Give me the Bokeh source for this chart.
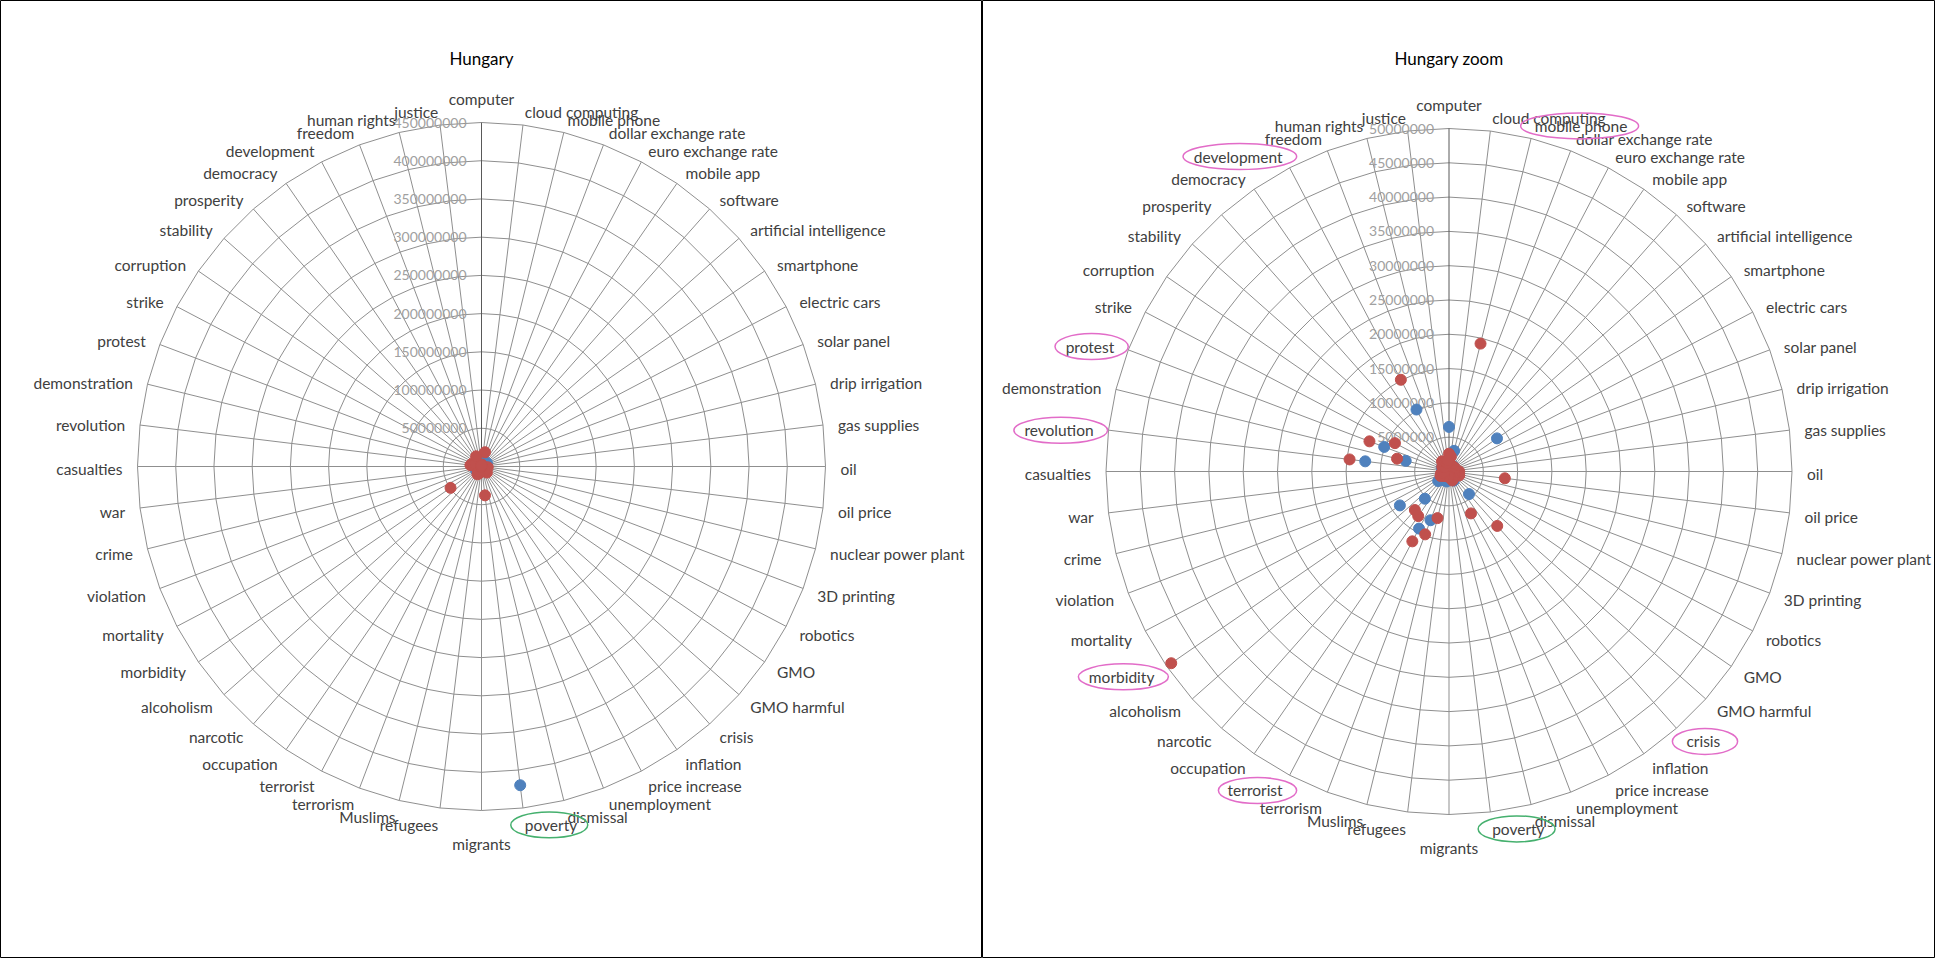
import math
from bokeh.plotting import figure
from bokeh.layouts import row
from bokeh.models import Range1d
from bokeh.core.properties import value
from bokeh.embed import file_html
from bokeh.resources import INLINE

# ---------------- data (values in millions) ----------------
categories = [
    "computer", "cloud computing", "mobile phone", "dollar exchange rate", "euro exchange rate",
    "mobile app", "software", "artificial intelligence", "smartphone", "electric cars",
    "solar panel", "drip irrigation", "gas supplies", "oil", "oil price",
    "nuclear power plant", "3D printing", "robotics", "GMO", "GMO harmful",
    "crisis", "inflation", "price increase", "unemployment", "dismissal",
    "poverty", "migrants", "refugees", "Muslims", "terrorism",
    "terrorist", "occupation", "narcotic", "alcoholism", "morbidity",
    "mortality", "violation", "crime", "war", "casualties",
    "revolution", "demonstration", "protest", "strike", "corruption",
    "stability", "prosperity", "democracy", "development", "freedom",
    "human rights", "justice",
]
blue_values = [
    6.5, 1.0, 3.1, 0.5, 0.6,
    0.4, 1.0, 0.5, 8.5, 0.4,
    0.5, 0.2, 0.6, 1.2, 0.8,
    0.7, 0.5, 0.4, 0.3, 0.2,
    4.4, 0.8, 1.5, 1.2, 0.9,
    420.0, 0.8, 1.0, 1.5, 7.6,
    9.4, 1.5, 5.3, 2.1, 8.7,
    1.0, 0.6, 1.0, 0.8, 0.5,
    12.3, 6.5, 10.1, 1.2, 0.9,
    0.7, 0.6, 1.2, 10.2, 0.8,
    0.6, 0.9,
]
red_values = [
    2.6, 2.2, 19.2, 1.0, 0.9,
    0.8, 0.7, 0.6, 1.0, 0.5,
    0.6, 0.3, 0.8, 1.5, 8.2,
    1.4, 1.6, 1.0, 0.9, 0.5,
    10.6, 1.2, 6.9, 1.4, 0.8,
    38.0, 0.6, 0.8, 7.0, 9.8,
    11.5, 7.9, 7.5, 1.0, 49.2,
    1.4, 0.8, 1.2, 1.0, 0.7,
    14.6, 7.8, 12.4, 8.9, 1.2,
    1.0, 0.9, 1.8, 15.1, 1.5,
    1.3, 1.6,
]
left_ticks = [50, 100, 150, 200, 250, 300, 350, 400, 450]
right_ticks = [5, 10, 15, 20, 25, 30, 35, 40, 45, 50]
zoom_excluded = ["poverty"]
pink_marked = ["mobile phone", "development", "protest", "revolution", "morbidity", "terrorist", "crisis"]
green_marked = ["poverty"]

BLUE = "#4F81BD"
RED = "#C0504D"
GRID = "#8f8f8f"
LABEL = "#404040"
TICK = "#a0a0a0"
FONT = "Lato"
FS = 15.5
H = 958
N = len(categories)


def text_width(s, size):
    narrow = set("iljtfr .")
    wide = set("mwMW")
    w = 0.0
    for ch in s:
        if ch in narrow:
            w += 0.28
        elif ch in wide:
            w += 0.8
        elif ch.isupper() or ch.isdigit():
            w += 0.6
        else:
            w += 0.52
    return w * size


def panel(title, width, cx, cy, R, vmax, ticks, excluded, pink, green):
    k = R / vmax
    p = figure(width=width, height=H, output_backend="svg", toolbar_location=None,
               x_range=Range1d(-cx / k, (width - cx) / k),
               y_range=Range1d(-(H - cy) / k, cy / k),
               min_border=0, min_border_left=0, min_border_right=0,
               min_border_top=0, min_border_bottom=0)
    p.axis.visible = False
    p.grid.visible = False
    p.outline_line_color = "black"
    p.outline_line_width = 1
    p.background_fill_color = "white"
    p.border_fill_color = "white"

    angles = [2 * math.pi * i / N for i in range(N)]
    # rings
    xs, ys = [], []
    for t in ticks:
        xs.append([t * math.sin(a) for a in angles] + [0.0])
        ys.append([t * math.cos(a) for a in angles] + [t])
    p.multi_line(xs, ys, line_color=GRID, line_width=1)
    # spokes
    sx = [[0, vmax * math.sin(a)] for a in angles[1:]]
    sy = [[0, vmax * math.cos(a)] for a in angles[1:]]
    p.multi_line(sx, sy, line_color=GRID, line_width=1)
    p.line([0, 0], [0, vmax], line_color="#595959", line_width=1)

    # value labels
    gap = 15 / k
    p.text(x=[-gap] * len(ticks), y=ticks, text=[str(int(t * 1_000_000)) for t in ticks],
           text_align="right", text_baseline="middle", text_color=TICK,
           text_font=value(FONT), text_font_size="14px")

    # category labels
    rl = R + 15
    groups = {}
    marks = []
    for i, name in enumerate(categories):
        a = angles[i]
        s, c = math.sin(a), math.cos(a)
        px, py = rl * s, rl * c  # pixels relative to centre (y up)
        if abs(s) < 0.02:
            align = "center"
        elif s > 0:
            align = "left"
        else:
            align = "right"
        if c > 0.999:
            base = "bottom"
            tcy = py + 9
        elif c < -0.999:
            base = "top"
            py -= 9
            tcy = py - 10
        else:
            base = "middle"
            py -= 2
            tcy = py
        groups.setdefault((align, base), []).append((px / k, py / k, name))
        w = text_width(name, FS)
        tcx = px + (w / 2 if align == "left" else (-w / 2 if align == "right" else 0))
        if name in pink:
            marks.append((tcx / k, tcy / k, w + 28, "#e26cc8"))
        if name in green:
            marks.append((tcx / k, tcy / k, w + 28, "#45b06e"))
    for (align, base), items in groups.items():
        p.text(x=[it[0] for it in items], y=[it[1] for it in items], text=[it[2] for it in items],
               text_align=align, text_baseline=base, text_color=LABEL,
               text_font=value(FONT), text_font_size=f"{FS}px")
    for (mx, my, mw, col) in marks:
        p.ellipse(x=[mx], y=[my], width=[mw], height=[26], width_units="screen",
                  height_units="screen", fill_color=None, line_color=col, line_width=1.5)

    # data points
    for vals, col in ((blue_values, BLUE), (red_values, RED)):
        px_, py_ = [], []
        for i, v in enumerate(vals):
            if categories[i] in excluded or v > vmax:
                continue
            px_.append(v * math.sin(angles[i]))
            py_.append(v * math.cos(angles[i]))
        p.scatter(px_, py_, marker="circle", size=11, fill_color=col, line_color=col)

    # title
    p.text(x=[0], y=[(cy - 58) / k], text=[title], text_align="center", text_baseline="middle",
           text_color="black", text_font=value(FONT), text_font_size="17px")
    return p


left = panel("Hungary", 982, 481, 466, 344, 450, left_ticks, [], [], green_marked)
right = panel("Hungary zoom", 953, 466.5, 471, 343, 50, right_ticks, zoom_excluded,
              pink_marked, green_marked)
layout = row(left, right)
open("out.html", "w").write(file_html(layout, INLINE))
